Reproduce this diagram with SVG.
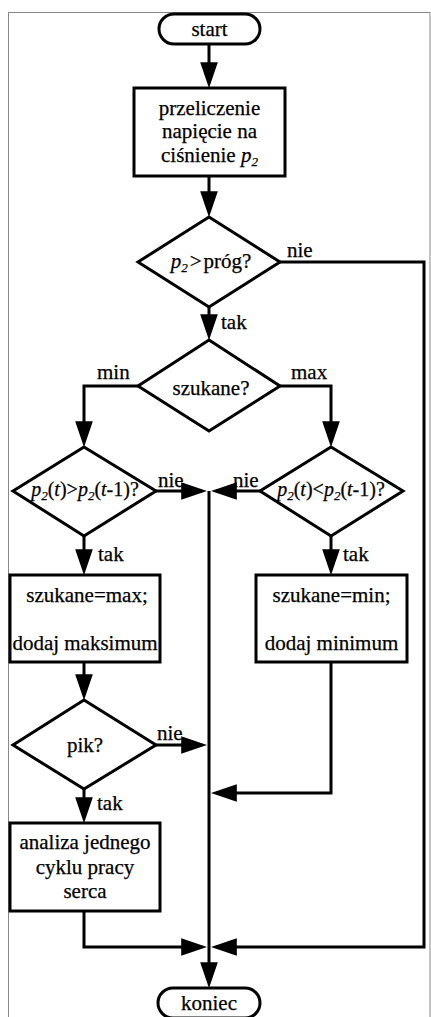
<svg xmlns="http://www.w3.org/2000/svg" width="431" height="1017" viewBox="0 0 431 1017" font-family="Liberation Serif, DejaVu Serif, serif">
  <style>
    text { font-family: 'Liberation Serif', 'DejaVu Serif', serif; font-size: 21px; fill: #000; stroke: #000; stroke-width: 0.25px; }
    .c { text-anchor: middle; }
    .i { font-style: italic; }
    .f { font-size: 20px; }
    .shape { fill: #fff; stroke: #000; stroke-width: 3; }
    .conn path { fill: none; stroke: #000; stroke-width: 3; marker-end: url(#arrow); }
    .conn path.plain { marker-end: none; }
    .frame { fill: none; stroke: #888; stroke-width: 1; }
  </style>
  <defs>
    <marker id="arrow" markerUnits="userSpaceOnUse" markerWidth="26" markerHeight="18" viewBox="0 0 25 17" refX="20" refY="8.5" orient="auto">
      <path d="M0,0 L25,8.5 L0,17 Z" fill="#000"/>
    </marker>
  </defs>

  <!-- page frame -->
  <rect class="frame" x="8.5" y="12.5" width="421.5" height="1010"/>

  <!-- connectors (paths end 5px short of the tip; marker refX makes up the rest) -->
  <g id="connectors" class="conn">
    <path d="M209,44 V83"/>
    <path d="M209,176 V212"/>
    <path d="M209,307 V335"/>
    <path d="M280,262 H424 V947 H216"/>
    <path d="M138,386 H84 V442"/>
    <path d="M280,386 H331 V442"/>
    <path d="M156,491 H202"/>
    <path d="M260,491 H216"/>
    <path class="plain" d="M209,491 V947"/>
    <path d="M84,536 V570"/>
    <path d="M331,536 V570"/>
    <path d="M84,662 V695"/>
    <path d="M156,745 H202"/>
    <path d="M331,662 V793 H216"/>
    <path d="M84,788 V818"/>
    <path d="M84,911 V947 H202"/>
    <path d="M209,947 V983"/>
  </g>

  <!-- connector labels -->
  <g id="labels">
    <text x="287" y="257">nie</text>
    <text x="221" y="329">tak</text>
    <text x="97" y="379">min</text>
    <text x="291" y="379">max</text>
    <text x="158" y="487">nie</text>
    <text x="233" y="487">nie</text>
    <text x="98" y="561">tak</text>
    <text x="343" y="561">tak</text>
    <text x="157" y="740">nie</text>
    <text x="97" y="810">tak</text>
  </g>

  <g id="start">
    <rect class="shape" x="159" y="14" width="101" height="30" rx="15"/>
    <text class="c" x="209.5" y="36">start</text>
  </g>

  <g id="convert">
    <rect class="shape" x="134" y="88" width="151" height="88"/>
    <text class="c" x="209.5" y="115">przeliczenie</text>
    <text class="c" x="209.5" y="138">napięcie na</text>
    <text class="c" x="209.5" y="162">ciśnienie <tspan class="i">p</tspan><tspan class="i" font-size="13" dy="4">2</tspan></text>
  </g>

  <g id="threshold">
    <path class="shape" d="M209,217 L280,262 L209,307 L138,262 Z"/>
    <text class="c" x="211" y="268"><tspan class="i">p</tspan><tspan class="i" font-size="13" dy="4">2</tspan><tspan dy="-4" dx="2">&gt;</tspan><tspan dx="2">próg?</tspan></text>
  </g>

  <g id="searched">
    <path class="shape" d="M209,340 L280,386 L209,431 L138,386 Z"/>
    <text class="c" x="211" y="395">szukane?</text>
  </g>

  <g id="rising">
    <path class="shape" d="M84,447 L156,491 L84,536 L13,491 Z"/>
    <text class="c f" x="85" y="496"><tspan class="i">p</tspan><tspan class="i" font-size="13" dy="4">2</tspan><tspan dy="-4">(</tspan><tspan class="i">t</tspan><tspan>)&gt;</tspan><tspan class="i">p</tspan><tspan class="i" font-size="13" dy="4">2</tspan><tspan dy="-4">(</tspan><tspan class="i">t</tspan><tspan>-1)?</tspan></text>
  </g>

  <g id="falling">
    <path class="shape" d="M331,447 L403,491 L331,536 L260,491 Z"/>
    <text class="c f" x="331" y="496"><tspan class="i">p</tspan><tspan class="i" font-size="13" dy="4">2</tspan><tspan dy="-4">(</tspan><tspan class="i">t</tspan><tspan>)&lt;</tspan><tspan class="i">p</tspan><tspan class="i" font-size="13" dy="4">2</tspan><tspan dy="-4">(</tspan><tspan class="i">t</tspan><tspan>-1)?</tspan></text>
  </g>

  <g id="add-max">
    <rect class="shape" x="10" y="575" width="150" height="87"/>
    <text class="c" x="87" y="602">szukane=max;</text>
    <text class="c" x="85" y="650">dodaj maksimum</text>
  </g>

  <g id="add-min">
    <rect class="shape" x="256" y="575" width="151" height="87"/>
    <text class="c" x="331.5" y="602">szukane=min;</text>
    <text class="c" x="331.5" y="650">dodaj minimum</text>
  </g>

  <g id="peak">
    <path class="shape" d="M84,700 L156,745 L84,789 L13,745 Z"/>
    <text class="c" x="85" y="752">pik?</text>
  </g>

  <g id="analysis">
    <rect class="shape" x="10" y="823" width="150" height="88"/>
    <text class="c" x="85" y="849">analiza jednego</text>
    <text class="c" x="85" y="874">cyklu pracy</text>
    <text class="c" x="85" y="898">serca</text>
  </g>

  <g id="end">
    <rect class="shape" x="158" y="988" width="102" height="30" rx="15"/>
    <text class="c" x="209" y="1010">koniec</text>
  </g>
</svg>
